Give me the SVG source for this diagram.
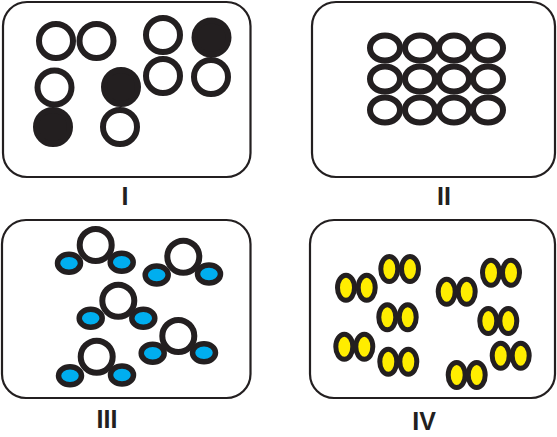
<svg xmlns="http://www.w3.org/2000/svg" width="557" height="437" viewBox="0 0 557 437">
<style>
.panel{fill:#fff;stroke:#231f20;stroke-width:2.2}
.o{fill:#fff;stroke:#231f20;stroke-width:6}
.f{fill:#231f20;stroke:#231f20;stroke-width:6}
.b{fill:#00aeef;stroke:#231f20;stroke-width:5.5}
.y{fill:#ffed00;stroke:#231f20;stroke-width:5}
.lbl{font-family:"Liberation Sans",Arial,sans-serif;font-weight:bold;font-size:25px;fill:#231f20;text-anchor:middle}
</style>
<rect width="557" height="437" fill="#fff"/>
<g id="panel-I">
<rect class="panel" x="3" y="2" width="247.5" height="175" rx="24"/>
<circle class="o" cx="56" cy="41" r="17"/>
<circle class="o" cx="96.5" cy="41" r="17"/>
<circle class="o" cx="163" cy="35" r="17"/>
<circle class="o" cx="163" cy="76" r="17"/>
<circle class="f" cx="211.5" cy="37.5" r="17"/>
<circle class="o" cx="211" cy="77" r="17"/>
<circle class="o" cx="54.5" cy="87.5" r="17"/>
<circle class="f" cx="53" cy="127" r="17"/>
<circle class="f" cx="121" cy="87" r="17"/>
<circle class="o" cx="120" cy="127" r="17"/>
</g>
<g id="panel-II">
<rect class="panel" x="312" y="2" width="243" height="175" rx="24"/>
<g class="o">
<ellipse cx="385" cy="48" rx="15" ry="12.5"/><ellipse cx="420" cy="48" rx="15" ry="12.5"/><ellipse cx="454" cy="48" rx="15" ry="12.5"/><ellipse cx="488" cy="48" rx="15" ry="12.5"/>
<ellipse cx="385" cy="79" rx="15" ry="12.5"/><ellipse cx="420" cy="79" rx="15" ry="12.5"/><ellipse cx="454" cy="79" rx="15" ry="12.5"/><ellipse cx="488" cy="79" rx="15" ry="12.5"/>
<ellipse cx="385" cy="110" rx="15" ry="12.5"/><ellipse cx="420" cy="110" rx="15" ry="12.5"/><ellipse cx="454" cy="110" rx="15" ry="12.5"/><ellipse cx="488" cy="110" rx="15" ry="12.5"/>
</g>
</g>
<g id="panel-III">
<rect class="panel" x="2" y="220" width="248.5" height="178" rx="24"/>
<g id="m1"><ellipse class="b" cx="69" cy="263.3" rx="11.5" ry="9"/><ellipse class="b" cx="121.7" cy="262.3" rx="11.5" ry="9"/><circle class="o" cx="95.7" cy="245" r="16"/></g>
<g id="m2"><ellipse class="b" cx="156.7" cy="275" rx="11.5" ry="9"/><ellipse class="b" cx="209" cy="274" rx="11.5" ry="9"/><circle class="o" cx="183.3" cy="256.7" r="16"/></g>
<g id="m3"><ellipse class="b" cx="90.7" cy="318.3" rx="11.5" ry="9"/><ellipse class="b" cx="143.3" cy="318.3" rx="11.5" ry="9"/><circle class="o" cx="118.3" cy="300.7" r="16"/></g>
<g id="m4"><ellipse class="b" cx="152.7" cy="353.3" rx="11.5" ry="9"/><ellipse class="b" cx="204" cy="352.7" rx="11.5" ry="9"/><circle class="o" cx="178.3" cy="336" r="16"/></g>
<g id="m5"><ellipse class="b" cx="70" cy="375.7" rx="11.5" ry="9"/><ellipse class="b" cx="122" cy="375" rx="11.5" ry="9"/><circle class="o" cx="96.7" cy="356.7" r="16"/></g>
</g>
<g id="panel-IV">
<rect class="panel" x="310" y="220" width="245" height="178" rx="24"/>
<g class="y">
<ellipse cx="346" cy="287.7" rx="8.5" ry="12.5"/><ellipse cx="366.7" cy="287.7" rx="8.5" ry="12.5"/>
<ellipse cx="389.3" cy="269" rx="8.5" ry="12.5"/><ellipse cx="410" cy="269" rx="8.5" ry="12.5"/>
<ellipse cx="387.3" cy="317.3" rx="8.5" ry="12.5"/><ellipse cx="407.7" cy="317.3" rx="8.5" ry="12.5"/>
<ellipse cx="344.3" cy="346.7" rx="8.5" ry="12.5"/><ellipse cx="364.3" cy="346.7" rx="8.5" ry="12.5"/>
<ellipse cx="388.3" cy="361.7" rx="8.5" ry="12.5"/><ellipse cx="408.3" cy="361.7" rx="8.5" ry="12.5"/>
<ellipse cx="446.7" cy="291.7" rx="8.5" ry="12.5"/><ellipse cx="466.7" cy="291.7" rx="8.5" ry="12.5"/>
<ellipse cx="491" cy="272.7" rx="8.5" ry="12.5"/><ellipse cx="511" cy="272.7" rx="8.5" ry="12.5"/>
<ellipse cx="488.3" cy="321" rx="8.5" ry="12.5"/><ellipse cx="508.3" cy="321" rx="8.5" ry="12.5"/>
<ellipse cx="500.7" cy="355.7" rx="8.5" ry="12.5"/><ellipse cx="520.7" cy="355.7" rx="8.5" ry="12.5"/>
<ellipse cx="456.7" cy="375" rx="8.5" ry="12.5"/><ellipse cx="476.7" cy="375" rx="8.5" ry="12.5"/>
</g>
</g>
<g id="labels">
<text class="lbl" x="125" y="205">I</text>
<text class="lbl" x="444" y="205">II</text>
<text class="lbl" x="107" y="428">III</text>
<text class="lbl" x="424" y="430">IV</text>
</g>
</svg>
